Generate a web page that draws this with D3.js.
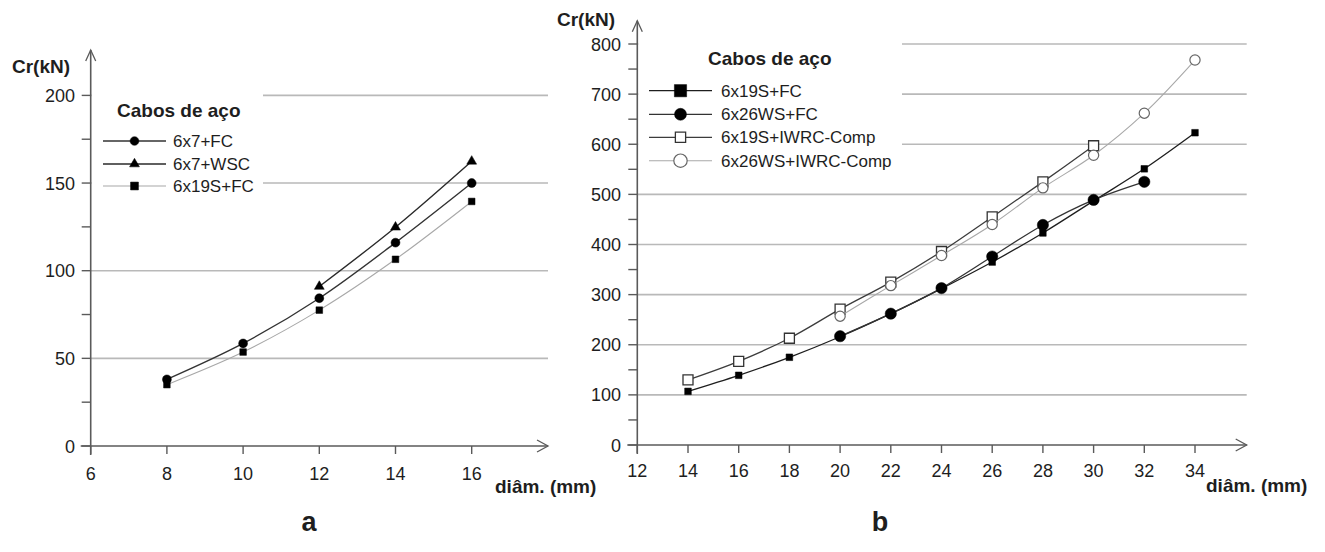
<!DOCTYPE html>
<html><head><meta charset="utf-8">
<script src="https://cdn.jsdelivr.net/npm/d3@7"></script>
<style>
body{margin:0;background:#fff}
text{font-family:"Liberation Sans",Arial,Helvetica,sans-serif;fill:#1e1e1e}
</style>
</head><body>
<svg id="c" width="1325" height="552"></svg>
<script>
// ---------- Panel a ----------
const diamA = [8, 10, 12, 14, 16];
const a_6x7FC = [38, 58.5, 84.3, 116, 150];
const a_6x7WSC = [null, null, 91, 124.8, 162.4];
const a_6x19SFC = [35, 53.6, 77.5, 106.5, 139.5];
const xTicksA = [6, 8, 10, 12, 14, 16];
const yTicksA = [0, 50, 100, 150, 200];
const yMinorA = [25, 75, 125, 175];
const namesA = ["6x7+FC", "6x7+WSC", "6x19S+FC"];

// ---------- Panel b ----------
const diamB = [14, 16, 18, 20, 22, 24, 26, 28, 30, 32, 34];
const b_6x19SFC = [107, 139, 175, 216, 262, 312, 365, 423, 487, 551, 623];
const b_6x26WSFC = [null, null, null, 217, 262, 313, 376, 439, 489, 525, null];
const b_6x19SIWRC = [130, 167, 213, 271, 325, 386, 455, 525, 597, null, null];
const b_6x26WSIWRC = [null, null, null, 257, 318, 378, 440, 513, 578, 662, 768];
const xTicksB = [12, 14, 16, 18, 20, 22, 24, 26, 28, 30, 32, 34];
const yTicksB = [0, 100, 200, 300, 400, 500, 600, 700, 800];
const yMinorB = [50, 150, 250, 350, 450, 550, 650, 750];
const namesB = ["6x19S+FC", "6x26WS+FC", "6x19S+IWRC-Comp", "6x26WS+IWRC-Comp"];

const legendTitle = "Cabos de aço";
const yLabel = "Cr(kN)";
const xLabel = "diâm. (mm)";

const svg = d3.select("#c");
const AX = "#5a5a5a", GRID = "#b9b9b9";

function drawPanel(cfg) {
  const g = svg.append("g");
  const x = d3.scaleLinear().domain(cfg.xDom).range(cfg.xRange);
  const y = d3.scaleLinear().domain(cfg.yDom).range(cfg.yRange);
  const x0 = x(cfg.xDom[0]), y0 = y(0);

  // gridlines
  g.selectAll(".grid").data(cfg.yTicks.filter(d => d > 0)).join("line")
    .attr("x1", x0).attr("x2", cfg.xEnd)
    .attr("y1", d => y(d)).attr("y2", d => y(d))
    .attr("stroke", GRID).attr("stroke-width", 1.6);

  // legend background
  g.append("rect").attr("x", x0 + 1).attr("y", cfg.legBox[1])
    .attr("width", cfg.legBox[0] - x0 - 1).attr("height", cfg.legBox[2] - cfg.legBox[1])
    .attr("fill", "#fff");

  // y axis
  g.append("line").attr("x1", x0).attr("x2", x0).attr("y1", y0 + 9).attr("y2", cfg.yTop)
    .attr("stroke", AX).attr("stroke-width", 1.6);
  g.append("path").attr("d", `M${x0-5},${cfg.yTop+11}L${x0},${cfg.yTop}L${x0+5},${cfg.yTop+11}`)
    .attr("fill", "none").attr("stroke", AX).attr("stroke-width", 1.3);
  g.selectAll(".yt").data(cfg.yTicks.concat(cfg.yMinor)).join("line")
    .attr("x1", x0 - 9).attr("x2", x0).attr("y1", d => y(d)).attr("y2", d => y(d))
    .attr("stroke", AX).attr("stroke-width", 1.4);
  g.selectAll(".yl").data(cfg.yTicks).join("text")
    .attr("x", cfg.yLabX).attr("y", d => y(d) + 6.5).attr("text-anchor", "end")
    .style("font-size", "18px").text(d => d);

  // x axis
  g.append("line").attr("x1", x0 - 10).attr("x2", cfg.xEnd).attr("y1", y0).attr("y2", y0)
    .attr("stroke", AX).attr("stroke-width", 1.6);
  g.append("path").attr("d", `M${cfg.xEnd-11},${y0-6}L${cfg.xEnd},${y0}L${cfg.xEnd-11},${y0+6}`)
    .attr("fill", "none").attr("stroke", AX).attr("stroke-width", 1.3);
  g.selectAll(".xt").data(cfg.xTicks).join("line")
    .attr("x1", d => x(d)).attr("x2", d => x(d)).attr("y1", y0).attr("y2", y0 + 8)
    .attr("stroke", AX).attr("stroke-width", 1.4);
  g.selectAll(".xl").data(cfg.xTicks).join("text")
    .attr("x", d => x(d)).attr("y", cfg.xLabY).attr("text-anchor", "middle")
    .style("font-size", "18px").text(d => d);

  // axis titles
  g.append("text").attr("x", cfg.yTitle[0]).attr("y", cfg.yTitle[1])
    .style("font-size", "19px").style("font-weight", "bold").text(yLabel);
  g.append("text").attr("x", cfg.xTitle[0]).attr("y", cfg.xTitle[1])
    .style("font-size", "19px").style("font-weight", "bold").text(xLabel);
  g.append("text").attr("x", cfg.panel[0]).attr("y", cfg.panel[1]).attr("text-anchor", "middle")
    .style("font-size", "27px").style("font-weight", "bold").text(cfg.panel[2]);

  // series
  const line = d3.line().defined(d => d[1] != null)
    .x(d => x(d[0])).y(d => y(d[1])).curve(d3.curveCatmullRom.alpha(0.5));
  cfg.series.forEach(s => {
    const pts = cfg.xs.map((d, i) => [d, s.vals[i]]).filter(p => p[1] != null);
    g.append("path").datum(pts).attr("d", line).attr("fill", "none")
      .attr("stroke", s.line).attr("stroke-width", s.lw);
    g.selectAll(null).data(pts).join("path")
      .attr("transform", d => `translate(${x(d[0])},${y(d[1])})`)
      .attr("d", d3.symbol(s.sym, s.size))
      .attr("fill", s.fill).attr("stroke", s.stroke).attr("stroke-width", s.sw);
  });

  // legend
  g.append("text").attr("x", cfg.leg.titleX).attr("y", cfg.leg.titleY)
    .style("font-size", "19px").style("font-weight", "bold").text(legendTitle);
  cfg.series.forEach((s, i) => {
    const ly = cfg.leg.ys[i];
    g.append("line").attr("x1", cfg.leg.x1).attr("x2", cfg.leg.x2).attr("y1", ly).attr("y2", ly)
      .attr("stroke", s.line).attr("stroke-width", s.lw);
    g.append("path").attr("transform", `translate(${(cfg.leg.x1 + cfg.leg.x2) / 2},${ly})`)
      .attr("d", d3.symbol(s.sym, s.legSize))
      .attr("fill", s.fill).attr("stroke", s.stroke).attr("stroke-width", s.sw);
    g.append("text").attr("x", cfg.leg.textX).attr("y", ly + 6)
      .style("font-size", "17px").text(cfg.names[i]);
  });
}

drawPanel({
  xDom: [6, 16], xRange: [90.7, 471.7], yDom: [0, 200], yRange: [446, 95.4],
  xEnd: 548, yTop: 50, yLabX: 75, xLabY: 480,
  xTicks: xTicksA, yTicks: yTicksA, yMinor: yMinorA,
  yTitle: [12, 73], xTitle: [495, 493], panel: [309, 531, "a"],
  legBox: [263, 88, 197],
  xs: diamA, names: namesA,
  series: [
    {vals: a_6x7FC, sym: d3.symbolCircle, size: 62, legSize: 60, fill: "#000", stroke: "#000", sw: 0.5, line: "#333", lw: 1.4},
    {vals: a_6x7WSC, sym: d3.symbolTriangle, size: 42, legSize: 42, fill: "#000", stroke: "#000", sw: 0.5, line: "#2a2a2a", lw: 1.4},
    {vals: a_6x19SFC, sym: d3.symbolSquare, size: 44, legSize: 62, fill: "#000", stroke: "#000", sw: 0.5, line: "#a8a8a8", lw: 1.1}
  ],
  leg: {titleX: 117, titleY: 117, x1: 103, x2: 166, textX: 173, ys: [141, 164, 186]}
});

drawPanel({
  xDom: [12, 34], xRange: [637.3, 1195], yDom: [0, 800], yRange: [445, 44],
  xEnd: 1246.7, yTop: 20.7, yLabX: 621, xLabY: 477,
  xTicks: xTicksB, yTicks: yTicksB, yMinor: yMinorB,
  yTitle: [557, 26], xTitle: [1206, 492], panel: [880, 531, "b"],
  legBox: [902, 32, 172],
  xs: diamB, names: namesB,
  series: [
    {vals: b_6x19SFC, sym: d3.symbolSquare, size: 44, legSize: 150, fill: "#000", stroke: "#000", sw: 0.5, line: "#1e1e1e", lw: 1.3},
    {vals: b_6x26WSFC, sym: d3.symbolCircle, size: 100, legSize: 113, fill: "#000", stroke: "#000", sw: 0.5, line: "#333", lw: 1.3},
    {vals: b_6x19SIWRC, sym: d3.symbolSquare, size: 100, legSize: 105, fill: "#fff", stroke: "#333", sw: 1.3, line: "#3c3c3c", lw: 1.3},
    {vals: b_6x26WSIWRC, sym: d3.symbolCircle, size: 82, legSize: 140, fill: "#fff", stroke: "#666", sw: 1.2, line: "#a8a8a8", lw: 1.1}
  ],
  leg: {titleX: 708, titleY: 65, x1: 649, x2: 712, textX: 721, ys: [90.7, 114.3, 137.3, 160.7]}
});
</script>
</body></html>
